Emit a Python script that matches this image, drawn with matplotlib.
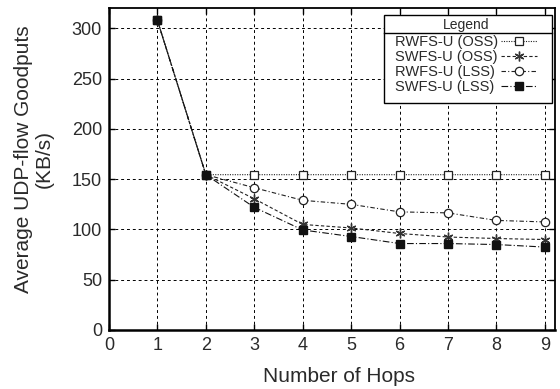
import matplotlib
matplotlib.use("Agg")
import matplotlib.pyplot as plt
from matplotlib.lines import Line2D
from matplotlib.patches import Rectangle

plt.rcParams['font.family'] = ['Liberation Sans', 'DejaVu Sans']

hops = [1, 2, 3, 4, 5, 6, 7, 8, 9]
rwfs_oss = [308, 154.5, 154.5, 154.5, 154.5, 154.5, 154.5, 154.5, 154.5]
swfs_oss = [308, 154.5, 130.5, 105, 101.5, 96, 92.5, 91, 90]
rwfs_lss = [308, 154.5, 141.5, 129, 125, 117.5, 116.5, 109, 107.5]
swfs_lss = [308, 154.5, 122, 99.5, 93, 86, 86, 85, 82.5]
labels = ["RWFS-U (OSS)", "SWFS-U (OSS)", "RWFS-U (LSS)", "SWFS-U (LSS)"]
xticks = [0, 1, 2, 3, 4, 5, 6, 7, 8, 9]
yticks = [0, 50, 100, 150, 200, 250, 300]

W, H = 560, 389
fig = plt.figure(figsize=(5.6, 3.89), dpi=100)
ax = fig.add_axes([109 / W, 1 - 330 / H, (554.5 - 109) / W, (330 - 8.3) / H])

txt = '#2a2a2a'
lw = 0.8
h1, = ax.plot(hops, rwfs_oss, linestyle=(0, (1, 1.2)), color='#222222', lw=lw,
              marker='s', mfc='white', mec='#222222', ms=6, mew=0.9)
h2, = ax.plot(hops, swfs_oss, linestyle=(0, (3, 2)), color='#222222', lw=lw,
              marker=(6, 2, 0), mec='#333333', ms=7, mew=1.0)
h3, = ax.plot(hops, rwfs_lss, linestyle=(0, (4, 2, 1, 2)), color='#222222', lw=lw,
              marker='o', mfc='white', mec='#222222', ms=6, mew=0.9)
h4, = ax.plot(hops, swfs_lss, linestyle=(0, (6, 2, 1, 2)), color='#111111', lw=lw,
              marker='s', mfc='#111111', mec='#111111', ms=6)

ax.set_xlim(0, 9.2)
ax.set_ylim(0, 320)
ax.set_xticks(xticks)
ax.set_yticks(yticks)
ax.grid(True, color='black', linestyle=(0, (3, 3)), linewidth=0.7)
ax.tick_params(direction='in', top=True, right=True, length=4, width=1,
               labelsize=13, pad=5, labelcolor=txt)
for s in ax.spines.values():
    s.set_linewidth(1.3)
ax.spines['left'].set_linewidth(1.8)
ax.spines['bottom'].set_linewidth(1.8)

fig.text(339 / W, 1 - 377 / H, "Number of Hops", fontsize=15, color=txt,
         ha='center', va='center')
fig.text(34 / W, 1 - 159 / H, "Average UDP-flow Goodputs\n(KB/s)", fontsize=15,
         color=txt, ha='center', va='center', rotation=90, linespacing=1.15,
         multialignment='center')

leg = fig.legend([h1, h2, h3, h4], labels, loc='upper right',
                 bbox_to_anchor=(537 / W, 1 - 17.8 / H), bbox_transform=fig.transFigure,
                 title="Legend", markerfirst=False,
                 fontsize=10.5, title_fontsize=10, frameon=False,
                 borderpad=0, labelspacing=0.07, borderaxespad=0,
                 handlelength=2.5, handletextpad=0.15)
for t in leg.get_texts():
    t.set_color(txt)
leg.get_title().set_color(txt)

fig.canvas.draw()
renderer = fig.canvas.get_renderer()
try:
    leg._legend_box.sep = 2.5
    for col in leg._legend_handle_box.get_children():
        rows = col.get_children()
        maxw = max(r.get_bbox(renderer).width for r in rows)
        col.align = 'left'
        col.width = maxw
        for r in rows:
            r.mode = 'expand'
    fig.canvas.draw()
except Exception:
    pass

bb = leg.get_window_extent(renderer)
tb = leg.get_title().get_window_extent(renderer)
inv = fig.transFigure.inverted()
(rx0, ry0), = inv.transform([(bb.x0 - 11, bb.y0 - 8.5)])
(rx1, ry1), = inv.transform([(bb.x1 + 15, bb.y1 + 3)])
fig.add_artist(Rectangle((rx0, ry0), rx1 - rx0, ry1 - ry0, transform=fig.transFigure,
                         facecolor='white', edgecolor='black', lw=1.0, zorder=4))
(_, yl), = inv.transform([(0, tb.y0 - 1)])
fig.add_artist(Line2D([rx0, rx1], [yl, yl], color='black', lw=1.0,
                      transform=fig.transFigure, zorder=6))

fig.savefig("out.png", dpi=100)
